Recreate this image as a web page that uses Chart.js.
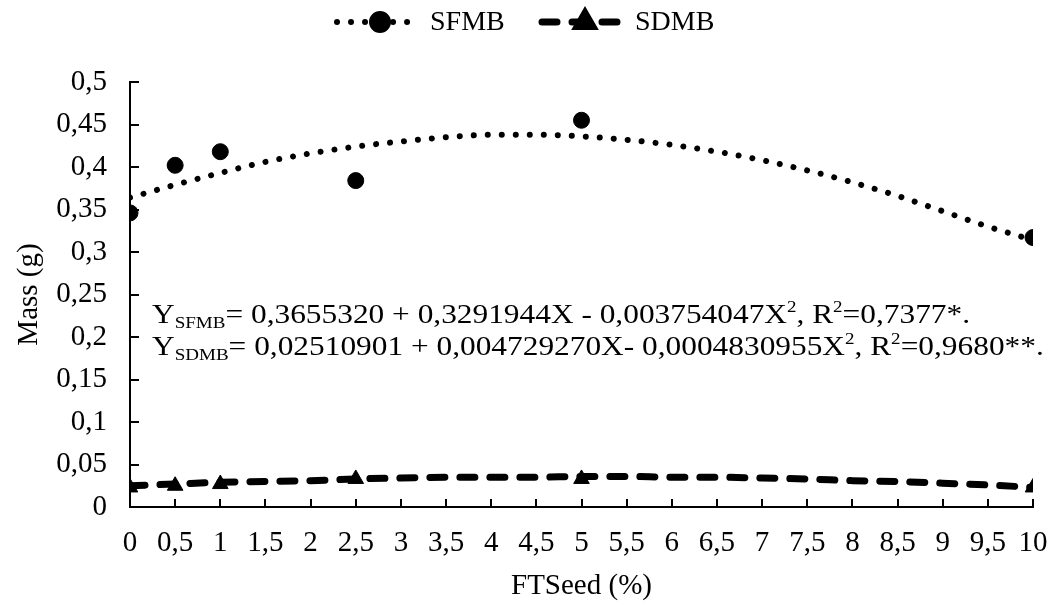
<!DOCTYPE html>
<html>
<head>
<meta charset="utf-8">
<script src="https://cdn.jsdelivr.net/npm/chart.js@4/dist/chart.umd.min.js"></script>
<style>
    html, body { margin: 0; padding: 0; background: #fff; }
    #wrap { width: 1051px; height: 604px; }
</style>
</head>
<body>
<div id="wrap"><canvas id="mass-chart" width="1051" height="604"></canvas></div>
<script>
// observed means per FTSeed dose
const doses = [0, 0.5, 1, 2.5, 5, 10];
const sfmbMeans = [0.346, 0.402, 0.418, 0.384, 0.455, 0.317];
const sdmbMeans = [0.023, 0.025, 0.027, 0.033, 0.033, 0.023];

// fitted quadratic curves, sampled every 0.5 %
const fitDoses = [0, 0.5, 1, 1.5, 2, 2.5, 3, 3.5, 4, 4.5, 5, 5.5, 6, 6.5, 7, 7.5, 8, 8.5, 9, 9.5, 10];
const sfmbFit = [0.364, 0.379, 0.393, 0.406, 0.416, 0.424, 0.430, 0.435, 0.438, 0.438, 0.436,
    0.432, 0.426, 0.418, 0.408, 0.396, 0.382, 0.366, 0.348, 0.330, 0.314];
const sdmbFit = [0.025, 0.027, 0.029, 0.030, 0.031, 0.033, 0.034, 0.035, 0.035, 0.035, 0.036,
    0.036, 0.035, 0.035, 0.034, 0.033, 0.031, 0.030, 0.028, 0.026, 0.023];

const seriesNames = ['SFMB', 'SDMB'];
const equations = [
    [{ t: 'Y' }, { t: 'SFMB', sub: true }, { t: '= 0,3655320 + 0,3291944X - 0,003754047X' }, { t: '2', sup: true },
     { t: ', R' }, { t: '2', sup: true }, { t: '=0,7377*.' }],
    [{ t: 'Y' }, { t: 'SDMB', sub: true }, { t: '= 0,02510901 + 0,004729270X- 0,0004830955X' }, { t: '2', sup: true },
     { t: ', R' }, { t: '2', sup: true }, { t: '=0,9680**.' }]
];

const FONT = '"Liberation Serif", "Times New Roman", serif';
const INK = '#000';

function toPoints(xs, ys) {
    return xs.map((x, i) => ({ x: x, y: ys[i] }));
}

function commaNum(v) {
    return String(Number(v.toFixed(2))).replace('.', ',');
}

// tick marks drawn on the inner side of both axes
const innerTicks = {
    id: 'innerTicks',
    afterDraw(chart) {
        const { ctx, chartArea, scales } = chart;
        ctx.save();
        ctx.strokeStyle = INK;
        ctx.lineWidth = 2;
        ctx.beginPath();
        scales.x.ticks.forEach(t => {
            const px = Math.round(scales.x.getPixelForValue(t.value));
            ctx.moveTo(px, chartArea.bottom);
            ctx.lineTo(px, chartArea.bottom - 8);
        });
        scales.y.ticks.forEach(t => {
            const py = Math.round(scales.y.getPixelForValue(t.value));
            ctx.moveTo(chartArea.left, py);
            ctx.lineTo(chartArea.left + 9, py);
        });
        ctx.stroke();
        ctx.restore();
    }
};

// legend: sample line of the fitted curve with the point marker on top
const comboLegend = {
    id: 'comboLegend',
    afterDraw(chart) {
        const ctx = chart.ctx;
        const items = [
            { line: chart.data.datasets[0], mark: chart.data.datasets[2], x0: 337 },
            { line: chart.data.datasets[1], mark: chart.data.datasets[3], x0: 542 }
        ];
        const y = 22;
        ctx.save();
        items.forEach(it => {
            ctx.beginPath();
            ctx.strokeStyle = INK;
            ctx.lineWidth = it.line.borderWidth;
            ctx.lineCap = 'round';
            ctx.setLineDash(it.line.borderDash);
            ctx.moveTo(it.x0, y);
            ctx.lineTo(it.x0 + 82, y);
            ctx.stroke();
            ctx.setLineDash([]);
            Chart.helpers.drawPoint(ctx, {
                pointStyle: it.mark.pointStyle,
                radius: it.mark.pointRadius,
                borderWidth: 1
            }, it.x0 + 43, y);
            ctx.fillStyle = INK;
            ctx.font = '28px ' + FONT;
            ctx.textBaseline = 'middle';
            ctx.fillText(it.mark.label, it.x0 + 93, y + 1);
        });
        ctx.restore();
    }
};

// regression equations written inside the plot, set a little wide
const equationText = {
    id: 'equationText',
    afterDatasetsDraw(chart) {
        const ctx = chart.ctx;
        const left = chart.chartArea.left + 22;
        const baselines = [323, 355];
        ctx.save();
        ctx.translate(left, 0);
        ctx.scale(1.12, 1);
        ctx.fillStyle = INK;
        ctx.textBaseline = 'alphabetic';
        equations.forEach((segs, row) => {
            let x = 0;
            segs.forEach(s => {
                let size = 28, dy = 0;
                if (s.sub) { size = 17; dy = 5; }
                if (s.sup) { size = 17; dy = -11; }
                ctx.font = size + 'px ' + FONT;
                ctx.fillText(s.t, x, baselines[row] + dy);
                x += ctx.measureText(s.t).width;
            });
        });
        ctx.restore();
    }
};

const ctx = document.getElementById('mass-chart');
new Chart(ctx, {
    type: 'scatter',
    data: {
        datasets: [
            {
                label: seriesNames[0] + ' fit',
                type: 'line',
                data: toPoints(fitDoses, sfmbFit),
                borderColor: INK,
                borderWidth: 6,
                borderDash: [0.01, 14],
                borderCapStyle: 'round',
                cubicInterpolationMode: 'monotone',
                pointRadius: 0,
                fill: false,
                order: 2
            },
            {
                label: seriesNames[1] + ' fit',
                type: 'line',
                data: toPoints(fitDoses, sdmbFit),
                borderColor: INK,
                borderWidth: 7,
                borderDash: [15, 15],
                borderCapStyle: 'round',
                cubicInterpolationMode: 'monotone',
                pointRadius: 0,
                fill: false,
                order: 2
            },
            {
                label: seriesNames[0],
                data: toPoints(doses, sfmbMeans),
                pointStyle: 'circle',
                pointRadius: 8,
                backgroundColor: INK,
                borderColor: INK,
                order: 1
            },
            {
                label: seriesNames[1],
                data: toPoints(doses, sdmbMeans),
                pointStyle: 'triangle',
                pointRadius: 9,
                backgroundColor: INK,
                borderColor: INK,
                order: 1
            }
        ]
    },
    options: {
        responsive: false,
        animation: false,
        layout: { padding: { top: 82, right: 18, bottom: 0, left: 0 } },
        plugins: {
            legend: { display: false },
            tooltip: { enabled: false }
        },
        scales: {
            x: {
                type: 'linear',
                min: 0,
                max: 10,
                afterFit: s => {
                    s.height = 97;
                    s.paddingLeft = 0;
                    s.paddingRight = 0;
                },
                grid: { display: true, drawOnChartArea: false, drawTicks: false },
                border: { display: true, color: INK, width: 2 },
                ticks: {
                    stepSize: 0.5,
                    padding: 19,
                    color: INK,
                    font: { family: FONT, size: 29 },
                    maxRotation: 0,
                    autoSkip: false,
                    callback: v => commaNum(v)
                },
                title: {
                    display: true,
                    text: 'FTSeed (%)',
                    color: INK,
                    font: { family: FONT, size: 29 },
                    padding: { top: 0, bottom: 0 }
                }
            },
            y: {
                min: 0,
                max: 0.5,
                afterFit: s => { s.width = 130; },
                grid: { display: true, drawOnChartArea: false, drawTicks: false },
                border: { display: true, color: INK, width: 2 },
                ticks: {
                    stepSize: 0.05,
                    padding: 23,
                    color: INK,
                    font: { family: FONT, size: 29 },
                    autoSkip: false,
                    callback: v => commaNum(v)
                },
                title: {
                    display: true,
                    text: 'Mass (g)',
                    color: INK,
                    font: { family: FONT, size: 29 },
                    padding: { top: 12, bottom: 0 }
                }
            }
        }
    },
    plugins: [innerTicks, comboLegend, equationText]
});
</script>
</body>
</html>
